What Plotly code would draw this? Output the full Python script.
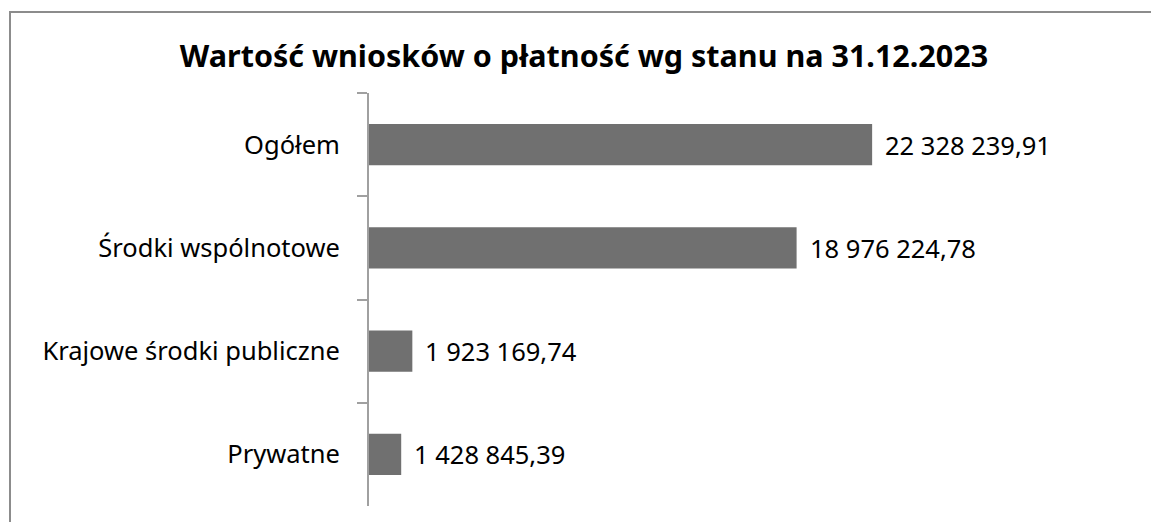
import plotly.graph_objects as go

# values
categories = ["Ogółem", "Środki wspólnotowe", "Krajowe środki publiczne", "Prywatne"]
values = [22328239.91, 18976224.78, 1923169.74, 1428845.39]
title_text = "Wartość wniosków o płatność wg stanu na 31.12.2023"

W, H = 1151, 522
FONT = "Noto Sans"
BAR = "#707070"
AXIS = "#a0a0a0"
LBL = 25.5


def fmt_pl(v):
    # Polish style: space as thousands separator, comma for decimals
    s = f"{v:,.2f}"
    return s.replace(",", " ").replace(".", ",")


labels = [fmt_pl(v) for v in values]

fig = go.Figure()
fig.add_trace(go.Bar(
    y=categories, x=values, orientation="h",
    marker=dict(color=BAR, line=dict(width=0)),
    width=0.4, hoverinfo="skip",
))

# value labels to the right of each bar
for c, v, t in zip(categories, values, labels):
    fig.add_annotation(x=v, y=c, text=t, showarrow=False, xanchor="left",
                       xshift=11, font=dict(family=FONT, size=LBL, color="#000000"))

# chart border (top and left edges visible in the reference)
fig.add_shape(type="rect", xref="paper", yref="paper",
              x0=10 / W, x1=1.05, y0=-0.05, y1=1 - 12 / H,
              line=dict(color="#8c8c8c", width=2), layer="below")

fig.update_layout(
    width=W, height=H,
    margin=dict(l=0, r=0, t=0, b=0),
    paper_bgcolor="white", plot_bgcolor="white",
    showlegend=False,
    title=dict(text=f"<b>{title_text}</b>", x=584 / W, xanchor="center",
               y=1 - 56 / H, yanchor="middle",
               font=dict(family=FONT, size=30.5, color="#000000")),
    font=dict(family=FONT, size=LBL, color="#000000"),
    xaxis=dict(domain=[369 / W, 1045 / W], range=[0, 30e6], visible=False,
               fixedrange=True),
    yaxis=dict(domain=[1 - 506 / H, 1 - 93 / H], autorange="reversed",
               type="category", showline=True, linecolor=AXIS, linewidth=2,
               ticks="outside", tickson="boundaries", ticklen=10,
               tickcolor=AXIS, tickwidth=2, ticklabelstandoff=22,
               showgrid=False, zeroline=False, fixedrange=True,
               tickfont=dict(family=FONT, size=LBL, color="#000000")),
)

fig.write_html("out.html", config={"displayModeBar": False},
               post_script="document.body.style.margin='0';document.body.style.overflow='hidden';")
